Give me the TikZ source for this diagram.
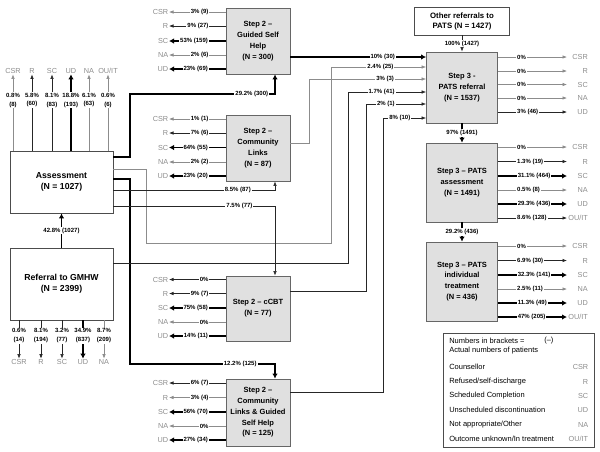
\documentclass[tikz,border=0pt]{standalone}
\usepackage{xcolor}
\usepackage{fontspec}
\setmainfont{Liberation Sans}
\usepackage{tikz}
\usetikzlibrary{arrows.meta}

\begin{document}
\begin{tikzpicture}[x=1pt, y=-1pt, line width=0.6pt, >={Latex[length=4.5pt,width=3.5pt]},
    mainbox/.style={draw=black!70, fill=white, line width=0.8pt, align=center, font=\bfseries\fontsize{8.7}{11}\selectfont},
    stepbox/.style={draw=black!60, fill=black!12, line width=0.8pt, align=center, font=\bfseries\fontsize{7.5}{10.8}\selectfont},
    pct/.style={fill=white, inner sep=1pt, font=\bfseries\fontsize{6}{8.5}\selectfont},
    oc/.style={text=black!45, inner sep=0.5pt, font=\fontsize{7.3}{8}\selectfont},
    legtxt/.style={anchor=west, inner sep=0pt, font=\fontsize{7.5}{8.5}\selectfont},
    weak/.style={draw=black!45, line width=0.6pt},
    norm/.style={draw=black!85, line width=0.6pt},
    heavy/.style={draw=black, line width=1.8pt, >={Latex[length=5pt,width=5.5pt]}}]

    \useasboundingbox (0,0) rectangle (600,451);

    % boxes
    \node[mainbox, minimum width=103, minimum height=62] (assess) at (61.5,182) {Assessment\\(N = 1027)};
    \node[mainbox, minimum width=103, minimum height=72] (refer) at (61.5,284) {Referral to GMHW\\(N = 2399)};

    \node[stepbox, minimum width=64, minimum height=66] (gsh) at (258,41) {Step 2 –\\Guided Self\\Help\\(N = 300)};
    \node[stepbox, minimum width=64, minimum height=66] (cl) at (258,148) {Step 2 –\\Community\\Links\\(N = 87)};
    \node[stepbox, minimum width=64, minimum height=65] (ccbt) at (258,308.5) {Step 2 – cCBT\\(N = 77)};
    \node[stepbox, minimum width=64, minimum height=67] (clgsh) at (258,412.5) {Step 2 –\\Community\\Links \& Guided\\Self Help\\(N = 125)};

    \node[mainbox, font=\bfseries\fontsize{7.8}{10}\selectfont, minimum width=95, minimum height=28] (other) at (462,21) {Other referrals to\\PATS (N = 1427)};
    \node[stepbox, minimum width=71, minimum height=71] (pref) at (462,87.5) {Step 3 -\\PATS referral\\(N = 1537)};
    \node[stepbox, minimum width=71, minimum height=79] (passm) at (462,182.5) {Step 3 – PATS\\assessment\\(N = 1491)};
    \node[stepbox, minimum width=71, minimum height=79] (pit) at (462,281.5) {Step 3 – PATS\\individual\\treatment\\(N = 436)};

    % outcomes of assessment and referral
    \foreach \x/\lab/\p/\n/\st [count=\i] in {13/CSR/0.8/8/weak, 32/R/5.8/60/norm, 52/SC/8.1/83/norm, 71/UD/18.8/193/heavy, 89/NA/6.1/63/weak, 108/{OU/IT}/0.6/6/weak} {
        \node[oc] (as-\i) at (\x,71) {\lab};
        \draw[\st, ->] (assess.north -| as-\i) -- node[pct, align=center, pos=0.66] {\p\%\\(\n)} (as-\i);
    }
    \foreach \x/\lab/\p/\n/\st [count=\i] in {19/CSR/0.6/14/norm, 41/R/8.1/194/norm, 62/SC/3.2/77/norm, 83/UD/34.9/837/heavy, 104/NA/8.7/209/weak} {
        \node[oc] (rf-\i) at (\x,362) {\lab};
        \draw[\st, ->] (refer.south -| rf-\i) -- node[pct, align=center, pos=0.4] {\p\%\\(\n)} (rf-\i);
    }

    % step 2 outcomes
    \foreach \y/\lab/\val/\st [count=\i] in {12/CSR/3\% (9)/weak, 26/R/9\% (27)/norm, 41/SC/53\% (159)/heavy, 55/NA/2\% (6)/weak, 69/UD/23\% (69)/heavy} {
        \node[oc, text width=18, align=right, anchor=east] (gsh-\i) at (169,\y) {\lab};
        \draw[\st, ->] (gsh.west |- gsh-\i) -- node[pct, anchor=east, pos=0.28] {\val} (gsh-\i);
    }
    \foreach \y/\lab/\val/\st [count=\i] in {119/CSR/1\% (1)/weak, 133/R/7\% (6)/norm, 147.5/SC/64\% (55)/heavy, 162/NA/2\% (2)/weak, 176/UD/23\% (20)/heavy} {
        \node[oc, text width=18, align=right, anchor=east] (cl-\i) at (169,\y) {\lab};
        \draw[\st, ->] (cl.west |- cl-\i) -- node[pct, anchor=east, pos=0.28] {\val} (cl-\i);
    }
    \foreach \y/\lab/\val/\st [count=\i] in {279.5/CSR/0\%/norm, 293.5/R/9\% (7)/norm, 308/SC/75\% (58)/heavy, 322/NA/0\%/weak, 336/UD/14\% (11)/heavy} {
        \node[oc, text width=18, align=right, anchor=east] (ccbt-\i) at (169,\y) {\lab};
        \draw[\st, ->] (ccbt.west |- ccbt-\i) -- node[pct, anchor=east, pos=0.28] {\val} (ccbt-\i);
    }
    \foreach \y/\lab/\val/\st [count=\i] in {383/CSR/6\% (7)/norm, 397.5/R/3\% (4)/weak, 412/SC/56\% (70)/heavy, 426/NA/0\%/weak, 440/UD/27\% (34)/heavy} {
        \node[oc, text width=18, align=right, anchor=east] (clgsh-\i) at (169,\y) {\lab};
        \draw[\st, ->] (clgsh.west |- clgsh-\i) -- node[pct, anchor=east, pos=0.28] {\val} (clgsh-\i);
    }

    % step 3 outcomes
    \foreach \y/\lab/\val/\st [count=\i] in {57/CSR/0\%/weak, 71/R/0\%/weak, 84.5/SC/0\%/weak, 98/NA/0\%/weak, 112/UD/3\% (46)/norm} {
        \node[oc, text width=20, align=right, anchor=west] (pref-\i) at (567,\y) {\lab};
        \draw[\st, ->] (pref.east |- pref-\i) -- node[pct, anchor=west, pos=0.26] {\val} (pref-\i);
    }
    \foreach \y/\lab/\val/\st [count=\i] in {147/CSR/0\%/weak, 161.5/R/1.3\% (19)/norm, 176/SC/31.1\% (464)/heavy, 190/NA/0.5\% (8)/weak, 204/UD/29.3\% (436)/heavy, 218/{OU/IT}/8.6\% (128)/norm} {
        \node[oc, text width=20, align=right, anchor=west] (passm-\i) at (567,\y) {\lab};
        \draw[\st, ->] (passm.east |- passm-\i) -- node[pct, anchor=west, pos=0.26] {\val} (passm-\i);
    }
    \foreach \y/\lab/\val/\st [count=\i] in {246/CSR/0\%/weak, 260.5/R/6.9\% (30)/norm, 275/SC/32.3\% (141)/heavy, 289/NA/2.5\% (11)/weak, 303/UD/11.3\% (49)/heavy, 317/{OU/IT}/47\% (205)/heavy} {
        \node[oc, text width=20, align=right, anchor=west] (pit-\i) at (567,\y) {\lab};
        \draw[\st, ->] (pit.east |- pit-\i) -- node[pct, anchor=west, pos=0.26] {\val} (pit-\i);
    }

    % assessment to step 2
    \draw[heavy, ->] ([yshift=25]assess.east) -| (130,94) -- node[pct, pos=0.84] {29.2\% (300)} (275,94) -- ([xshift=17]gsh.south);
    \draw[weak, ->] ([yshift=13]assess.east) -| (146,243) -| (331,67) -- node[pct, pos=0.52] {2.4\% (25)} ([yshift=20.5]pref.west);
    \draw[heavy, ->] ([yshift=3]assess.east) -| (130,364) -- node[pct, pos=0.76] {12.2\% (125)} (275,364) -- ([xshift=17]clgsh.north);
    \draw[norm, ->] ([yshift=-8]assess.east) -- node[pct, pos=0.77] {8.5\% (87)} (275,190) -- ([xshift=17]cl.south);
    \draw[norm, ->] ([yshift=-24]assess.east) -- node[pct, pos=0.78] {7.5\% (77)} (275,206) -- ([xshift=17]ccbt.north);

    % into PATS referral
    \draw[heavy, ->] ([yshift=-16]gsh.east) -- node[pct, pos=0.68] {10\% (30)} ([yshift=30.5]pref.west);
    \draw[weak, ->] ([yshift=5]cl.east) -| (309,79) -- node[pct, pos=0.65] {3\% (3)} ([yshift=8.5]pref.west);
    \draw[norm, ->] ([yshift=21]refer.east) -| (348,92) -- node[pct, pos=0.43] {1.7\% (41)} ([yshift=-4.5]pref.west);
    \draw[norm, ->] ([yshift=17.5]ccbt.east) -| (366,104) -- node[pct, pos=0.33] {2\% (1)} ([yshift=-16.5]pref.west);
    \draw[norm, ->] ([yshift=20.5]clgsh.east) -| (383,118) -- node[pct, pos=0.39] {8\% (10)} ([yshift=-30.5]pref.west);

    % vertical flows
    \draw[heavy, ->] (refer) -- node[pct] {42.8\% (1027)} (assess);
    \draw[norm, ->] (other) -- node[pct] {100\% (1427)} (pref);
    \draw[heavy, ->] (pref) -- node[pct] {97\% (1491)} (passm);
    \draw[heavy, ->] (passm) -- node[pct] {29.2\% (436)} (pit);

    % legend
    \node[draw=black!70, line width=0.8pt, minimum width=151, minimum height=114] (legend) at (518.5,390) {};
    \node[legtxt] (lg-a) at (449,341) {Numbers in brackets =};
    \node[legtxt] (lg-b) at (544,341) {(–)};
    \node[legtxt] (lg-c) at (449,351) {Actual numbers of patients};
    \foreach \y/\txt/\ab [count=\i] in {367/Counsellor/CSR, 381.5/{Refused/self-discharge}/R, 395.5/Scheduled Completion/SC, 410/Unscheduled discontinuation/UD, 424.5/{Not appropriate/Other}/NA, 439/{Outcome unknown/In treatment}/{OU/IT}} {
        \node[legtxt] (lg-\i) at (449,\y) {\txt};
        \node[oc, anchor=east] (ab-\i) at (589,\y) {\ab};
    }
\end{tikzpicture}
\end{document}
